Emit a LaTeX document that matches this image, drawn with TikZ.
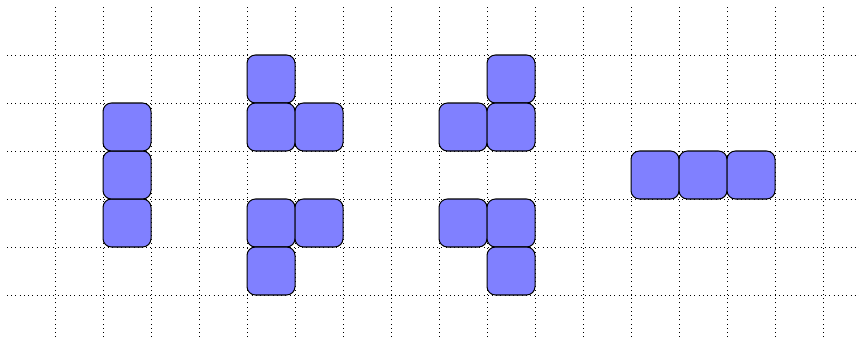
\documentclass[tikz,border=0pt]{standalone}
\usepackage{xcolor}
\usepackage{tikz}
\usetikzlibrary{positioning}

\begin{document}
\begin{tikzpicture}[
  cell/.style={draw, rectangle, rounded corners=5pt, minimum size=1cm, inner sep=0pt, outer sep=0pt, fill=blue!50, line width=0.6pt},
  gridline/.style={dotted, line width=0.5pt},
]
  \useasboundingbox (-0.146,0.125) rectangle (17.75,7.146);

  % dotted background grid
  \foreach \gx in {1,...,17}
    \draw[gridline] (\gx,0.125) -- (\gx,7);
  \foreach \gy in {1,...,6}
    \draw[gridline] (0,\gy) -- (17.75,\gy);

  % straight piece, vertical
  \foreach \cy [count=\n] in {2,3,4}
    \node[cell] (bar\n) at (2.5,\cy+0.5) {};

  % bent pieces, left column
  \node[cell] (ua) at (5.5,5.5) {};
  \node[cell] (ub) at (5.5,4.5) {};
  \node[cell] (uc) at (6.5,4.5) {};
  \node[cell] (la) at (5.5,2.5) {};
  \node[cell] (lb) at (6.5,2.5) {};
  \node[cell] (lc) at (5.5,1.5) {};

  % bent pieces, right column
  \node[cell] (va) at (10.5,5.5) {};
  \node[cell] (vb) at (9.5,4.5) {};
  \node[cell] (vc) at (10.5,4.5) {};
  \node[cell] (ma) at (9.5,2.5) {};
  \node[cell] (mb) at (10.5,2.5) {};
  \node[cell] (mc) at (10.5,1.5) {};

  % straight piece, horizontal
  \foreach \cx [count=\n] in {13,14,15}
    \node[cell] (row\n) at (\cx+0.5,3.5) {};
\end{tikzpicture}
\end{document}
